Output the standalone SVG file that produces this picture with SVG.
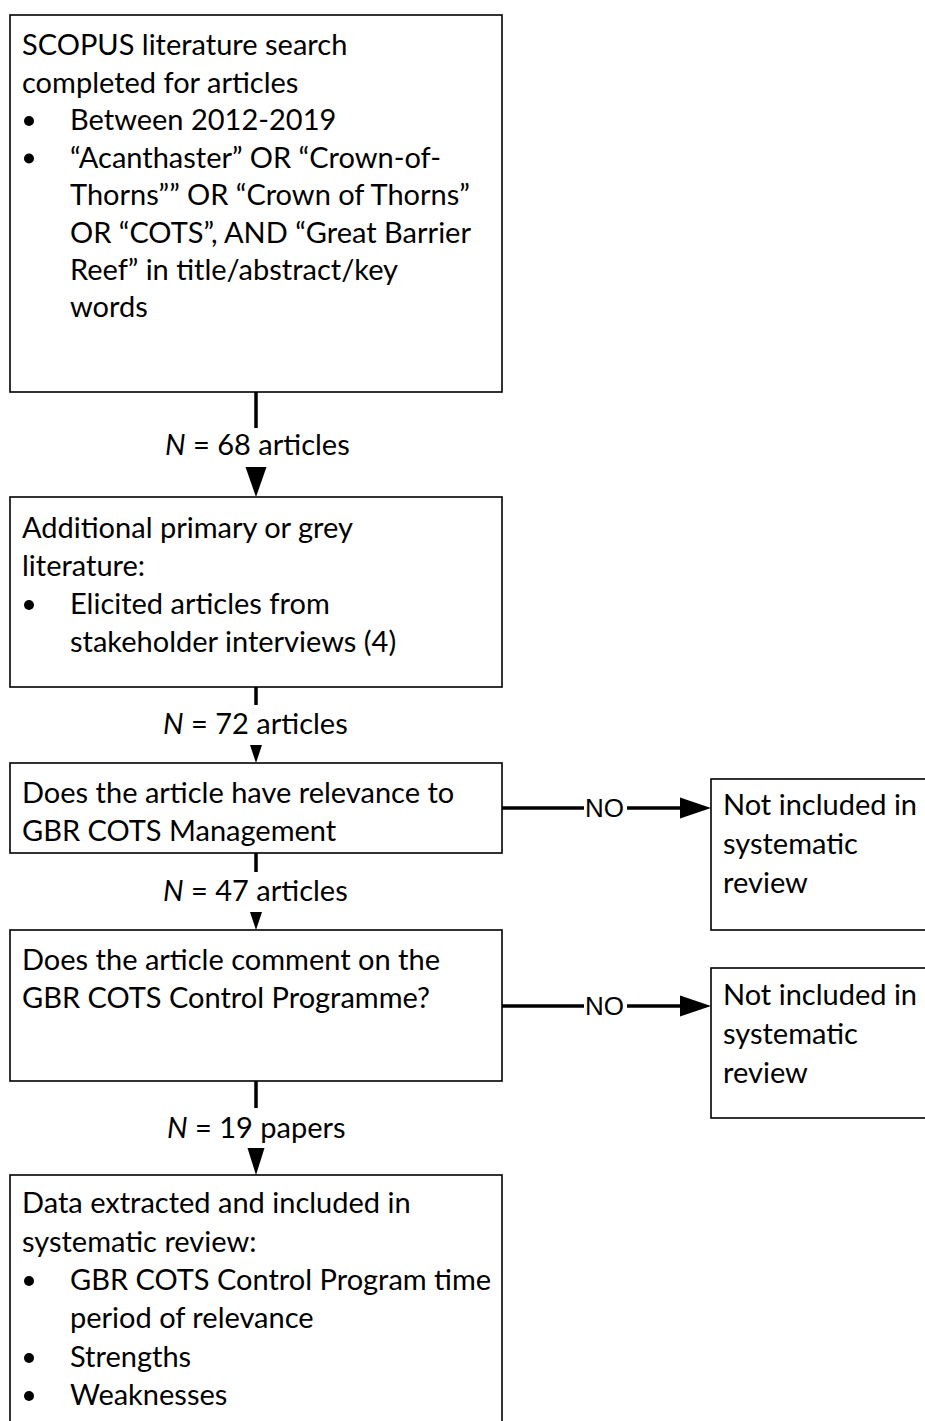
<svg xmlns="http://www.w3.org/2000/svg" width="925" height="1421" viewBox="0 0 925 1421">
<style>
.box{fill:#fff;stroke:#000;stroke-width:1.6}
.t{font-family:Lato,"Liberation Sans",sans-serif;font-size:29px;fill:#000}
.lbl{font-family:Lato,"Liberation Sans",sans-serif;font-size:29px;fill:#000}
.no{font-family:"Liberation Sans",Arial,sans-serif;font-size:26px;fill:#000}
.ln{stroke:#000;stroke-width:3.5;fill:none}
.hd{fill:#000}
.b{fill:#000}
</style>
<rect width="925" height="1421" fill="#fff"/>
<g id="connectors">
<line class="ln" x1="256" y1="392" x2="256" y2="428"/>
<text class="lbl" x="165" y="455"><tspan font-style="italic">N</tspan> = 68 articles</text>
<polygon class="hd" points="245.5,467 266.5,467 256,497"/>
<line class="ln" x1="256" y1="687" x2="256" y2="705"/>
<text class="lbl" x="163" y="734"><tspan font-style="italic">N</tspan> = 72 articles</text>
<polygon class="hd" points="250,745 262,745 256,763"/>
<line class="ln" x1="256" y1="853" x2="256" y2="872"/>
<text class="lbl" x="163" y="901"><tspan font-style="italic">N</tspan> = 47 articles</text>
<polygon class="hd" points="250,912 262,912 256,930"/>
<line class="ln" x1="256" y1="1081" x2="256" y2="1108"/>
<text class="lbl" x="167" y="1138"><tspan font-style="italic">N</tspan> = 19 papers</text>
<polygon class="hd" points="247.5,1148 264.5,1148 256,1175"/>
<line class="ln" x1="502" y1="808" x2="584" y2="808"/>
<text class="no" x="585" y="817">NO</text>
<line class="ln" x1="627" y1="808" x2="682" y2="808"/>
<polygon class="hd" points="680,797.5 711,808 680,818.5"/>
<line class="ln" x1="502" y1="1006" x2="584" y2="1006"/>
<text class="no" x="585" y="1015">NO</text>
<line class="ln" x1="627" y1="1006" x2="682" y2="1006"/>
<polygon class="hd" points="680,995.5 711,1006 680,1016.5"/>
</g>
<g id="n1">
<rect class="box" x="10" y="15" width="492" height="377"/>
<text class="t" x="22" y="55">SCOPUS literature search</text>
<text class="t" x="22" y="92.5">completed for articles</text>
<circle class="b" cx="29" cy="121" r="5"/>
<text class="t" x="70" y="130">Between 2012-2019</text>
<circle class="b" cx="29" cy="158.5" r="5"/>
<text class="t" x="70" y="167.5">“Acanthaster” OR “Crown-of-</text>
<text class="t" x="70" y="205">Thorns”” OR “Crown of Thorns”</text>
<text class="t" x="70" y="242.5">OR “COTS”, AND “Great Barrier</text>
<text class="t" x="70" y="280">Reef” in title/abstract/key</text>
<text class="t" x="70" y="317">words</text>
</g>
<g id="n2">
<rect class="box" x="10" y="497" width="492" height="190"/>
<text class="t" x="22" y="538">Additional primary or grey</text>
<text class="t" x="22" y="576">literature:</text>
<circle class="b" cx="29" cy="605" r="5"/>
<text class="t" x="70" y="614">Elicited articles from</text>
<text class="t" x="70" y="652">stakeholder interviews (4)</text>
</g>
<g id="n3">
<rect class="box" x="10" y="763" width="492" height="90"/>
<text class="t" x="22" y="803">Does the article have relevance to</text>
<text class="t" x="22" y="841">GBR COTS Management</text>
</g>
<g id="n4">
<rect class="box" x="10" y="930" width="492" height="151"/>
<text class="t" x="22" y="970">Does the article comment on the</text>
<text class="t" x="22" y="1008">GBR COTS Control Programme?</text>
</g>
<g id="n5">
<rect class="box" x="10" y="1175" width="492" height="260"/>
<text class="t" x="22" y="1213">Data extracted and included in</text>
<text class="t" x="22" y="1252">systematic review:</text>
<circle class="b" cx="29" cy="1281" r="5"/>
<text class="t" x="70" y="1290">GBR COTS Control Program time</text>
<text class="t" x="70" y="1328">period of relevance</text>
<circle class="b" cx="29" cy="1358" r="5"/>
<text class="t" x="70" y="1367">Strengths</text>
<circle class="b" cx="29" cy="1396" r="5"/>
<text class="t" x="70" y="1405">Weaknesses</text>
</g>
<g id="r1">
<rect class="box" x="711" y="779" width="230" height="151"/>
<text class="t" x="723" y="815">Not included in</text>
<text class="t" x="723" y="854">systematic</text>
<text class="t" x="723" y="893">review</text>
</g>
<g id="r2">
<rect class="box" x="711" y="968" width="230" height="150"/>
<text class="t" x="723" y="1005">Not included in</text>
<text class="t" x="723" y="1044">systematic</text>
<text class="t" x="723" y="1083">review</text>
</g>
</svg>
